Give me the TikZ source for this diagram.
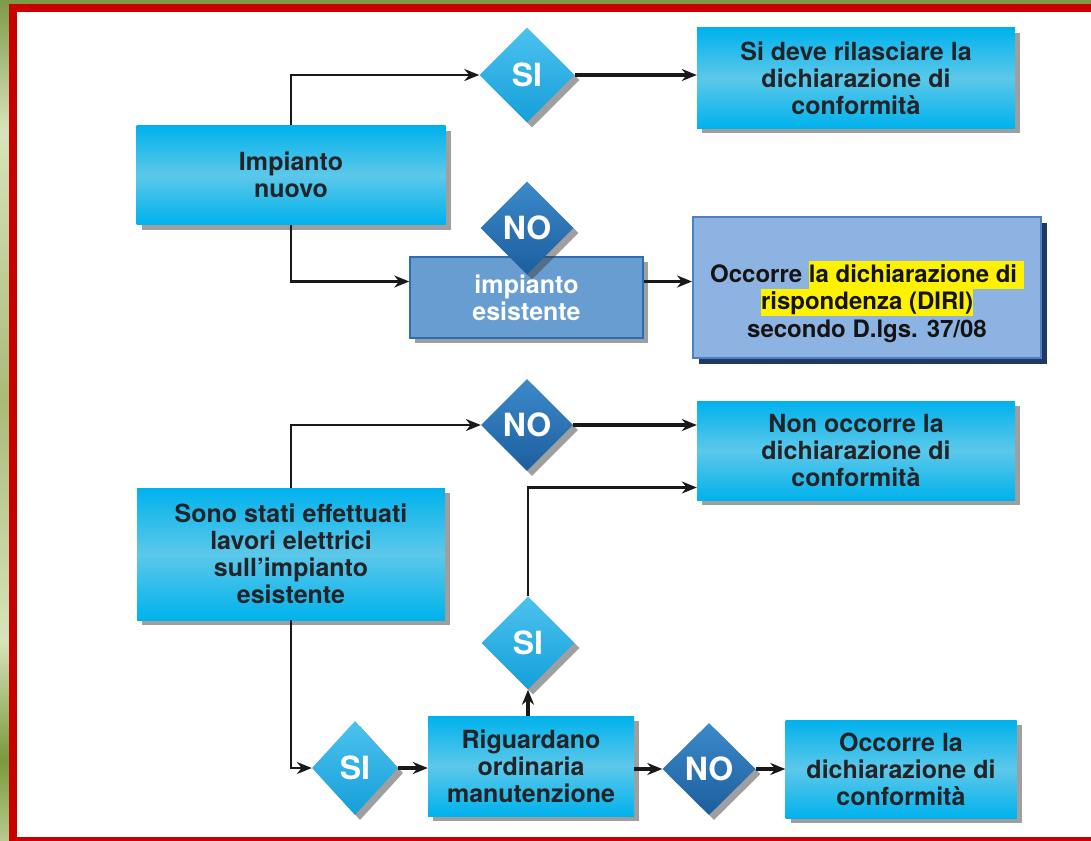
\documentclass[tikz,border=0pt]{standalone}
\usepackage{fontspec}
\setmainfont{TeX Gyre Heros}
\usetikzlibrary{shapes.geometric,arrows.meta,shadows,calc}
\definecolor{olA}{HTML}{7D9A48}
\definecolor{olB}{HTML}{D8E3BC}
\definecolor{olC}{HTML}{A8BC78}
\definecolor{olD}{HTML}{789A3C}
\definecolor{olE}{HTML}{B8C98E}
\definecolor{frameRed}{HTML}{C80000}
\definecolor{boxTop}{HTML}{00B2EC}
\definecolor{boxMid}{HTML}{5CC8EA}
\definecolor{boxText}{HTML}{232328}
\definecolor{siTop}{HTML}{4CC2EE}
\definecolor{siBot}{HTML}{159FDA}
\definecolor{noTop}{HTML}{3C8ACA}
\definecolor{noBot}{HTML}{1C5E9E}
\definecolor{ieFill}{HTML}{689DD2}
\definecolor{ieBorder}{HTML}{2E6DB4}
\definecolor{diriFill}{HTML}{8DB3E2}
\definecolor{diriBorder}{HTML}{4E7FC0}
\definecolor{diriShadow}{HTML}{1F3864}
\newcommand{\hlt}[1]{{\setlength{\fboxsep}{0pt}\colorbox{yellow}{\rule[-6.5pt]{0pt}{27.5pt}#1}}}
\begin{document}
\begin{tikzpicture}[x=1pt,y=-1pt,
  shad/.style={drop shadow={shadow xshift=5pt, shadow yshift=-5pt, fill=black!75, opacity=0.5}},
  box/.style={shad, top color=boxTop, bottom color=boxTop, middle color=boxMid,
    text=boxText, font=\fontsize{25}{27}\selectfont\bfseries, align=center, inner sep=0pt},
  dia/.style={shad, shape=diamond, inner sep=0pt, minimum width=95pt, minimum height=95pt,
    text=white, font=\fontsize{32}{32}\selectfont\bfseries},
  siC/.style={top color=siTop, bottom color=siBot},
  noC/.style={top color=noTop, bottom color=noBot},
  iebox/.style={shad, fill=ieFill, draw=ieBorder, line width=1.5pt, text=white,
    font=\fontsize{25}{27}\selectfont\bfseries, align=center, inner sep=0pt},
  diri/.style={fill=diriFill, draw=diriBorder, line width=2pt,
    drop shadow={shadow xshift=6pt, shadow yshift=-6pt, fill=diriShadow, opacity=1},
    text=black!92, font=\fontsize{24}{27.5}\selectfont\bfseries, align=center, inner sep=0pt},
  arr/.style={-{Stealth[length=15pt,width=12pt]}, line width=2.3pt, black!90},
  arrT/.style={arr, line width=3.6pt}
]
\useasboundingbox (0,0) rectangle (1091,840);
\begin{scope}
\clip (0,0) rectangle (1091,840);
\fill[top color=olA, bottom color=olB] (0,0) rectangle (10,130);
\fill[top color=olB, bottom color=olC] (0,130) rectangle (10,400);
\fill[top color=olC, bottom color=olB] (0,400) rectangle (10,640);
\fill[top color=olB, bottom color=olD] (0,640) rectangle (10,760);
\fill[top color=olD, bottom color=olE] (0,760) rectangle (10,840);
\fill[olA] (0,0) rectangle (1091,4.5);
\fill[frameRed] (9,4) rectangle (1100,850);
\fill[white] (17,12) rectangle (1100,836.5);
\end{scope}

% top part
\node[box, minimum width=309pt, minimum height=99pt] (b1) at (291,175) {Impianto\\nuovo};
\node[dia, siC] (si1) at (527,75) {SI};
\node[box, minimum width=318pt, minimum height=100pt] (r1) at (856,78) {Si deve rilasciare la\\dichiarazione di\\conformità};
\node[iebox, minimum width=233pt, minimum height=81pt] (ie) at (526.5,297.5) {\rule{0pt}{18pt}impianto\\esistente};
\node[dia, noC, minimum width=93pt, minimum height=93pt] (no1) at (527,228) {NO};
\node[diri, minimum width=348pt, minimum height=141pt] (diri) at (867,287.5)
  {\rule{0pt}{50pt}Occorre \hlt{la dichiarazione di\ }\\\hlt{rispondenza (DIRI)}\\secondo D.lgs. 37/08};

% bottom part
\node[box, minimum width=308pt, minimum height=132pt] (b2) at (291,554) {Sono stati effettuati\\lavori elettrici\\sull’impianto\\esistente};
\node[dia, noC, minimum width=92pt, minimum height=92pt] (no2) at (527,425) {NO};
\node[box, minimum width=318pt, minimum height=99pt] (r2) at (856,450.5) {Non occorre la\\dichiarazione di\\conformità};
\node[dia, siC, minimum width=93pt, minimum height=93pt] (si2) at (528,643) {SI};
\node[box, minimum width=206pt, minimum height=100pt] (rig) at (531,766) {Riguardano\\ordinaria\\manutenzione};
\node[dia, siC, minimum width=86pt, minimum height=94pt] (si3) at (355,768) {SI};
\node[dia, noC, minimum width=93pt, minimum height=92pt] (no3) at (709,769) {NO};
\node[box, minimum width=231pt, minimum height=98pt] (r3) at (901,769) {Occorre la\\dichiarazione di\\conformità};

% connectors
\draw[arr] (b1.north) |- (si1.west);
\draw[arrT] (si1.east) -- (si1.east -| r1.west);
\draw[arr] (b1.south) |- ([yshift=16pt]ie.west);
\draw[arrT] ([yshift=16pt]ie.east) -- ([yshift=16pt]ie.east -| diri.west);
\draw[arr] (b2.north) |- (no2.west);
\draw[arrT] (no2.east) -- (no2.east -| r2.west);
\draw[arr] (si2.north) |- ([yshift=-37pt]r2.west);
\draw[arrT] (si2.south |- rig.north) -- (si2.south);
\draw[arr] (b2.south) |- (si3.west);
\draw[arrT] (si3.east) -- (si3.east -| rig.west);
\draw[arrT] (no3.west -| rig.east) -- (no3.west);
\draw[arrT] (no3.east) -- (no3.east -| r3.west);
\end{tikzpicture}
\end{document}
